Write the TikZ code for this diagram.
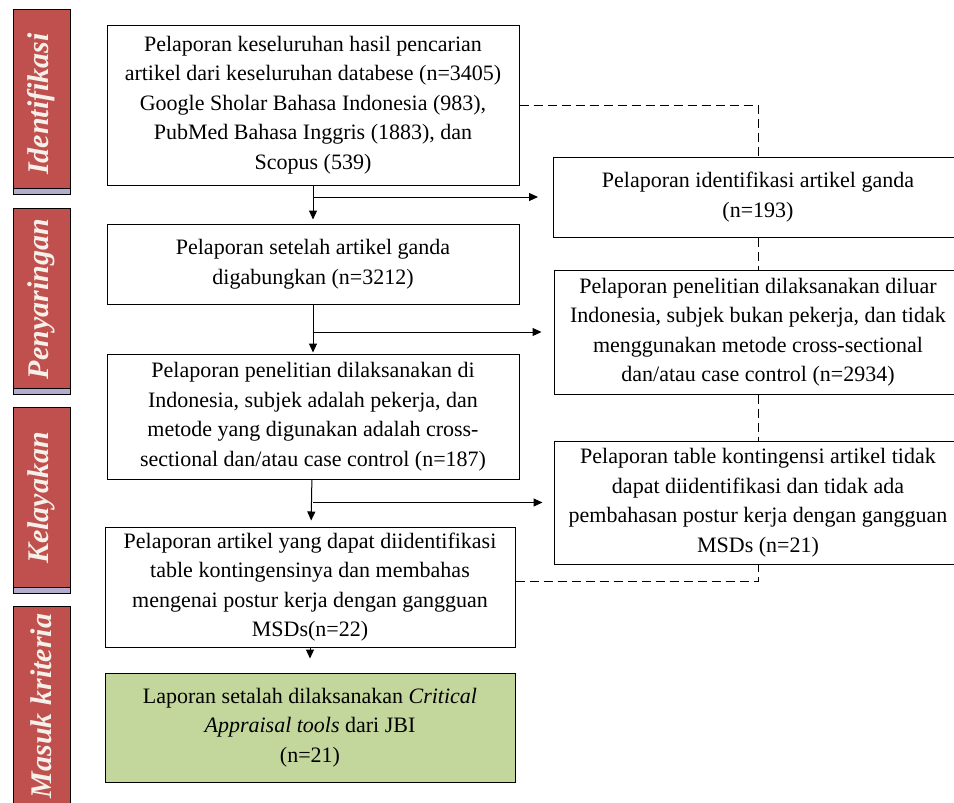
\documentclass[tikz,border=0pt]{standalone}
\usepackage{fontspec}
\setmainfont{Liberation Serif}
\usepackage{tikz}
\usetikzlibrary{arrows.meta}

\definecolor{barred}{HTML}{C0504D}
\definecolor{barlav}{HTML}{B4ACCF}
\definecolor{bartext}{HTML}{F6F0EA}
\definecolor{boxgreen}{HTML}{C3D69B}

\tikzset{
  box/.style = {draw, line width = 1pt, align = center, inner sep = 0pt, font = \fontsize{22}{29.5}\selectfont},
  arr/.style = {-{Triangle[length = 9pt, width = 8pt]}, line width = 1pt},
  dsh/.style = {dashed, dash pattern = on 9pt off 5pt, line width = 1pt},
  lbl/.style = {rotate = 90, text = bartext, font = \fontsize{30}{30}\selectfont\bfseries\itshape}
}

\begin{document}
\begin{tikzpicture} [x = 1pt, y = -1pt]
    \useasboundingbox (0,0) rectangle (954,803);
    % side bars
    \foreach \t/\b/\m/\name [count = \i] in {9/188/104/Identifikasi, 208/388/299/Penyaringan, 407/587/498/Kelayakan}{
      \fill[barred] (13,\t) rectangle (70,\b);
      \fill[barlav] (13,\b) rectangle (70,\b+6);
      \draw[line width = 0.8pt] (13,\t) rectangle (70,\b+6) (13,\b) -- (70,\b);
      \node[lbl] (lbl\i) at (41,\m) {\name};
    }
    \fill[barred] (13,606) rectangle (70,810);
    \draw[line width = 0.8pt] (13,810) -- (13,606) -- (70,606) -- (70,810);
    \node[lbl] (lbl4) at (41,706) {Masuk kriteria};
    % left column
    \node[box, minimum width = 412pt, minimum height = 160pt] (b1) at (313,105) {Pelaporan keseluruhan hasil pencarian\\ artikel dari keseluruhan databese (n=3405)\\ Google Sholar Bahasa Indonesia (983),\\ PubMed Bahasa Inggris (1883), dan\\ Scopus (539)};
    \node[box, minimum width = 412pt, minimum height = 80pt] (b2) at (313,264) {Pelaporan setelah artikel ganda\\ digabungkan (n=3212)};
    \node[box, minimum width = 412pt, minimum height = 125pt] (b3) at (313,416.5) {Pelaporan penelitian dilaksanakan di\\ Indonesia, subjek adalah pekerja, dan\\ metode yang digunakan adalah cross-\\ sectional dan/atau case control (n=187)};
    \node[box, minimum width = 410pt, minimum height = 120pt] (b4) at (310,587) {Pelaporan artikel yang dapat diidentifikasi\\ table kontingensinya dan membahas\\ mengenai postur kerja dengan gangguan\\ MSDs(n=22)};
    \node[box, fill = boxgreen, minimum width = 410pt, minimum height = 109pt] (b5) at (310,727.5) {Laporan setalah dilaksanakan \textit{Critical}\\ \textit{Appraisal tools} dari JBI\\ (n=21)};
    % right column
    \node[box, minimum width = 409pt, minimum height = 80pt] (r1) at (758,197) {Pelaporan identifikasi artikel ganda\\ (n=193)};
    \node[box, minimum width = 408pt, minimum height = 124pt] (r2) at (758,332) {Pelaporan penelitian dilaksanakan diluar\\ Indonesia, subjek bukan pekerja, dan tidak\\ menggunakan metode cross-sectional\\ dan/atau case control (n=2934)};
    \node[box, minimum width = 408pt, minimum height = 123pt] (r3) at (758,502.5) {Pelaporan table kontingensi artikel tidak\\ dapat diidentifikasi dan tidak ada\\ pembahasan postur kerja dengan gangguan\\ MSDs (n=21)};
    % arrows
    \draw[arr, shorten > = 4pt] (b1) -- (b2);
    \draw[arr, shorten > = 15pt] (b1.south |- r1) -- (r1);
    \draw[arr, shorten > = 1pt] (b2) -- (b3);
    \draw[arr, shorten > = 12pt] (b2.south |- r2) -- (r2);
    \draw[arr, shorten > = 6pt] (b3) -- (b4);
    \draw[arr, shorten > = 11pt] (b3.south |- r3) -- (r3);
    \draw[arr, shorten > = 14pt] (b4) -- (b5);
    % dashed
    \draw[dsh] (b1.east) -| (r1.north);
    \draw[dsh] (r1) -- (r2);
    \draw[dsh] (r2) -- (r3);
    \draw[dsh] ([yshift = 6pt]b4.east) -| (r3.south);
\end{tikzpicture}
\end{document}
